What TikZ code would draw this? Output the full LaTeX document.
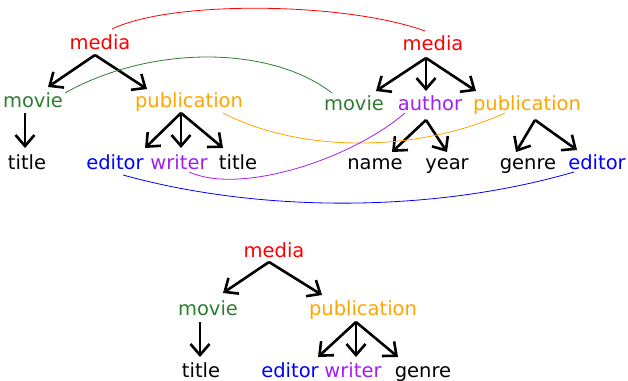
\documentclass[tikz,border=0pt]{standalone}
\usepackage{fontspec}
\setmainfont{DejaVu Sans}
\usetikzlibrary{arrows.meta}
\definecolor{cmedia}{RGB}{255,0,0}
\definecolor{cmovie}{RGB}{46,125,50}
\definecolor{cpub}{RGB}{255,165,0}
\definecolor{ceditor}{RGB}{0,0,255}
\definecolor{cwriter}{RGB}{160,32,240}
\tikzset{
  lbl/.style={anchor=base, inner sep=0pt, font=\fontsize{19.5}{22}\selectfont},
  arr/.style={line width=2.6pt, -{Straight Barb[length=11pt,width=19pt]}},
  link/.style={line width=0.8pt}
}
\begin{document}
\begin{tikzpicture}[x=1pt, y=-1pt]
\useasboundingbox (0,0) rectangle (628,380);

% first tree
\node[lbl, text=cmedia]  (m1)  at (100,49)  {media};
\node[lbl, text=cmovie]  (mv1) at (33,107)  {movie};
\node[lbl, text=cpub]    (pb1) at (189,107) {publication};
\node[lbl]               (t1)  at (27,169)  {title};
\node[lbl, text=ceditor] (ed1) at (115,169) {editor};
\node[lbl, text=cwriter] (wr1) at (179,169) {writer};
\node[lbl]               (t2)  at (238,169) {title};

\draw[arr] ([shift={(-5,6)}]m1.base) -- ([shift={(15,-20)}]mv1.base);
\draw[arr] ([shift={(-5,6)}]m1.base) -- ([shift={(-42,-18)}]pb1.base);
\draw[arr] ([shift={(-8,6)}]mv1.base) -- ([shift={(-2,-21)}]t1.base);
\draw[arr] ([shift={(-8,6)}]pb1.base) -- ([shift={(30,-21)}]ed1.base);
\draw[arr] ([shift={(-8,6)}]pb1.base) -- ([shift={(2,-21)}]wr1.base);
\draw[arr] ([shift={(-8,6)}]pb1.base) -- ([shift={(-15,-21)}]t2.base);

% second tree
\node[lbl, text=cmedia]  (m2)  at (433,50)  {media};
\node[lbl, text=cmovie]  (mv2) at (354,110) {movie};
\node[lbl, text=cwriter] (au2) at (430,110) {author};
\node[lbl, text=cpub]    (pb2) at (527,110) {publication};
\node[lbl]               (na2) at (375,169) {name};
\node[lbl]               (ye2) at (447,169) {year};
\node[lbl]               (ge2) at (528,169) {genre};
\node[lbl, text=ceditor] (ed2) at (597,169) {editor};

\draw[arr] ([shift={(-7,8)}]m2.base) -- ([shift={(22,-19)}]mv2.base);
\draw[arr] ([shift={(-7,8)}]m2.base) -- ([shift={(-4,-19)}]au2.base);
\draw[arr] ([shift={(-7,8)}]m2.base) -- ([shift={(-51,-19)}]pb2.base);
\draw[arr] ([shift={(-4,10)}]au2.base) -- ([shift={(17,-17)}]na2.base);
\draw[arr] ([shift={(-4,10)}]au2.base) -- ([shift={(0,-17)}]ye2.base);
\draw[arr] ([shift={(8,10)}]pb2.base) -- ([shift={(-12,-17)}]ge2.base);
\draw[arr] ([shift={(8,10)}]pb2.base) -- ([shift={(-20,-19)}]ed2.base);

% correspondences between the two upper trees
\draw[link, cmedia] ([shift={(12,-20)}]m1.base)
  .. controls +(60,-29) and +(-80,-29) .. ([shift={(-8,-19)}]m2.base);
\draw[link, cmovie] ([shift={(32,-14)}]mv1.base)
  .. controls +(85,-48) and +(-62,-48) .. ([shift={(-22,-17)}]mv2.base);
\draw[link, cpub] ([shift={(34,6)}]pb1.base)
  .. controls +(77,40) and +(-88,40) .. ([shift={(-22,3)}]pb2.base);
\draw[link, cwriter] ([shift={(10,3)}]wr1.base)
  .. controls +(51,23) and +(-55,47) .. ([shift={(-25,3)}]au2.base);
\draw[link, ceditor] ([shift={(8,6)}]ed1.base)
  .. controls +(137,38) and +(-141,41) .. ([shift={(-23,3)}]ed2.base);

% merged tree
\node[lbl, text=cmedia]  (m3)  at (274,257) {media};
\node[lbl, text=cmovie]  (mv3) at (208,315) {movie};
\node[lbl, text=cpub]    (pb3) at (363,315) {publication};
\node[lbl]               (t3)  at (201,377) {title};
\node[lbl, text=ceditor] (ed3) at (290,377) {editor};
\node[lbl, text=cwriter] (wr3) at (353,377) {writer};
\node[lbl]               (ge3) at (423,377) {genre};

\draw[arr] ([shift={(-5,5)}]m3.base) -- ([shift={(15,-22)}]mv3.base);
\draw[arr] ([shift={(-5,5)}]m3.base) -- ([shift={(-41,-20)}]pb3.base);
\draw[arr] ([shift={(-8,7)}]mv3.base) -- ([shift={(-1,-20)}]t3.base);
\draw[arr] ([shift={(-7,7)}]pb3.base) -- ([shift={(28,-20)}]ed3.base);
\draw[arr] ([shift={(-7,7)}]pb3.base) -- ([shift={(3,-20)}]wr3.base);
\draw[arr] ([shift={(-7,7)}]pb3.base) -- ([shift={(-25,-20)}]ge3.base);
\end{tikzpicture}
\end{document}
